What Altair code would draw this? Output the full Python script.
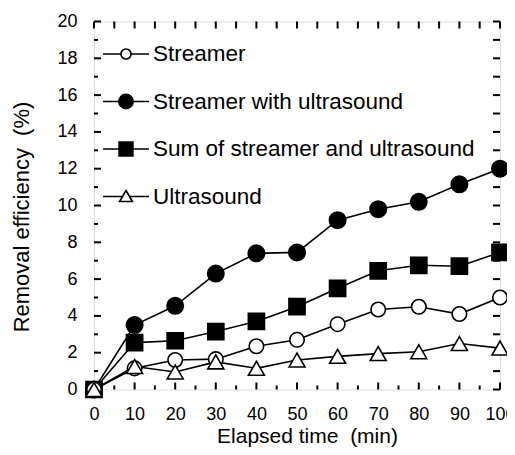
import altair as alt
import pandas as pd

# ---- data ----
times = [0, 10, 20, 30, 40, 50, 60, 70, 80, 90, 100]
series_names = ["Streamer", "Streamer with ultrasound",
                "Sum of streamer and ultrasound", "Ultrasound"]
streamer = [0, 1.15, 1.6, 1.65, 2.35, 2.7, 3.55, 4.35, 4.5, 4.1, 5.0]
streamer_us = [0, 3.5, 4.55, 6.3, 7.4, 7.45, 9.2, 9.8, 10.2, 11.15, 12.0]
sum_su = [0, 2.55, 2.65, 3.15, 3.7, 4.5, 5.5, 6.45, 6.75, 6.7, 7.45]
ultrasound = [0, 1.25, 0.95, 1.5, 1.15, 1.6, 1.8, 1.95, 2.05, 2.5, 2.25]

x_ticks = list(range(0, 101, 10))
x_minor = list(range(5, 100, 10))
y_ticks = list(range(0, 21, 2))
y_minor = list(range(1, 20, 2))

rows = []
for name, vals in zip(series_names, [streamer, streamer_us, sum_su, ultrasound]):
    for t, v in zip(times, vals):
        rows.append({"time": t, "value": v, "series": name})
df = pd.DataFrame(rows)

W, H = 406, 368
FONT = "Liberation Sans"
xs = alt.Scale(domain=[0, 100], nice=False, zero=False)
ys = alt.Scale(domain=[0, 20], nice=False)

X = alt.X("time:Q", scale=xs, axis=alt.Axis(
    values=x_ticks, title="Elapsed time\u00a0 (min)", grid=False, domain=False,
    ticks=False, tickSize=0, labelPadding=16, labelFontSize=18, labelFont=FONT,
    labelColor="black", titleFontSize=21, titleFont=FONT, titleFontWeight="normal",
    titleColor="black", titleX=213, titleY=53, titleBaseline="alphabetic",
    titleAlign="center", labelFlush=False, labelOverlap=False))
Y = alt.Y("value:Q", scale=ys, axis=alt.Axis(
    values=y_ticks, title="Removal efficiency\u00a0 (%)", grid=False, domain=False,
    ticks=False, tickSize=0, labelPadding=17, labelFontSize=18, labelFont=FONT,
    labelColor="black", titleFontSize=22, titleFont=FONT, titleFontWeight="normal",
    titleColor="black", titleX=-66, titleY=195, titleBaseline="alphabetic",
    titleAlign="center", titleAngle=270, labelFlush=False, labelOverlap=False))

lines = alt.Chart(df).mark_line(color="black", strokeWidth=1.6).encode(
    x=X, y=Y, detail="series:N")

marker_style = {
    "Streamer with ultrasound": dict(shape="circle", fill="black", size=270),
    "Sum of streamer and ultrasound": dict(shape="square", fill="black", size=260),
    "Streamer": dict(shape="circle", fill="white", size=210),
    "Ultrasound": dict(shape="triangle-up", fill="white", size=256),
}
point_layers = []
for name, st in marker_style.items():
    point_layers.append(
        alt.Chart(df).transform_filter(alt.datum.series == name).mark_point(
            shape=st["shape"], filled=True, fill=st["fill"], stroke="black",
            strokeWidth=1.6, size=st["size"], opacity=1).encode(x=X, y=Y))

legend_paths = [
    "M-1,0H-0.22M0.22,0H1M-0.22,0A0.22,0.22 0 1,0 0.22,0A0.22,0.22 0 1,0 -0.22,0Z",
    "M-1,0H-0.31M0.31,0H1M-0.31,0A0.31,0.31 0 1,0 0.31,0A0.31,0.31 0 1,0 -0.31,0Z",
    "M-1,0H-0.3M0.3,0H1M-0.3,-0.3H0.3V0.3H-0.3Z",
    "M-1,0H-0.15M0.15,0H1M0,-0.26L0.28,0.22L-0.28,0.22Z",
]
legend_fills = ["white", "black", "black", "white"]
legend_strokes = ["black", "black", "black", "black"]
leg = alt.Legend(orient="none", legendX=8, legendY=8.5, title=None,
                 labelFontSize=22.5, labelFont=FONT, labelColor="black", labelLimit=0,
                 symbolSize=2116, symbolStrokeWidth=1.6,
                 rowPadding=11.5, labelOffset=3, padding=0, offset=0)
legend_layer = alt.Chart(df).transform_filter("false").mark_point(
    filled=True, strokeWidth=1.6, size=2116, opacity=1).encode(
    x=X, y=Y,
    shape=alt.Shape("series:N", scale=alt.Scale(domain=series_names, range=legend_paths), legend=leg),
    fill=alt.Fill("series:N", scale=alt.Scale(domain=series_names, range=legend_fills), legend=leg),
    stroke=alt.Stroke("series:N", scale=alt.Scale(domain=series_names, range=legend_strokes), legend=leg))

# ---- inward ticks on all four sides ----
xt = pd.DataFrame({"time": x_ticks})
xm = pd.DataFrame({"time": x_minor})
xa = pd.DataFrame({"time": sorted(x_ticks + x_minor)})
yt = pd.DataFrame({"value": y_ticks})
ym = pd.DataFrame({"value": y_minor})
ya = pd.DataFrame({"value": sorted(y_ticks + y_minor)})
TW = 2
tick_layers = [
    alt.Chart(xt).mark_rule(color="black", strokeWidth=TW).encode(x=X, y=alt.value(H), y2=alt.value(H - 7)),
    alt.Chart(xm).mark_rule(color="black", strokeWidth=TW).encode(x=X, y=alt.value(H), y2=alt.value(H - 4)),
    alt.Chart(xa).mark_rule(color="black", strokeWidth=TW).encode(x=X, y=alt.value(0), y2=alt.value(7)),
    alt.Chart(yt).mark_rule(color="black", strokeWidth=TW).encode(y=Y, x=alt.value(0), x2=alt.value(7)),
    alt.Chart(ym).mark_rule(color="black", strokeWidth=TW).encode(y=Y, x=alt.value(0), x2=alt.value(4)),
    alt.Chart(ya).mark_rule(color="black", strokeWidth=TW).encode(y=Y, x=alt.value(W), x2=alt.value(W - 7)),
]

chart = alt.layer(lines, *tick_layers, *point_layers, legend_layer).properties(
    width=W, height=H,
    autosize="none",
    padding={"left": 86, "top": 13.5, "right": 7, "bottom": 57.5},
).configure_view(stroke="black", strokeWidth=2.5).configure(font=FONT).configure_legend(
    symbolStrokeWidth=1.6)

chart.save("out.html", embed_options={"renderer": "svg", "actions": False})
